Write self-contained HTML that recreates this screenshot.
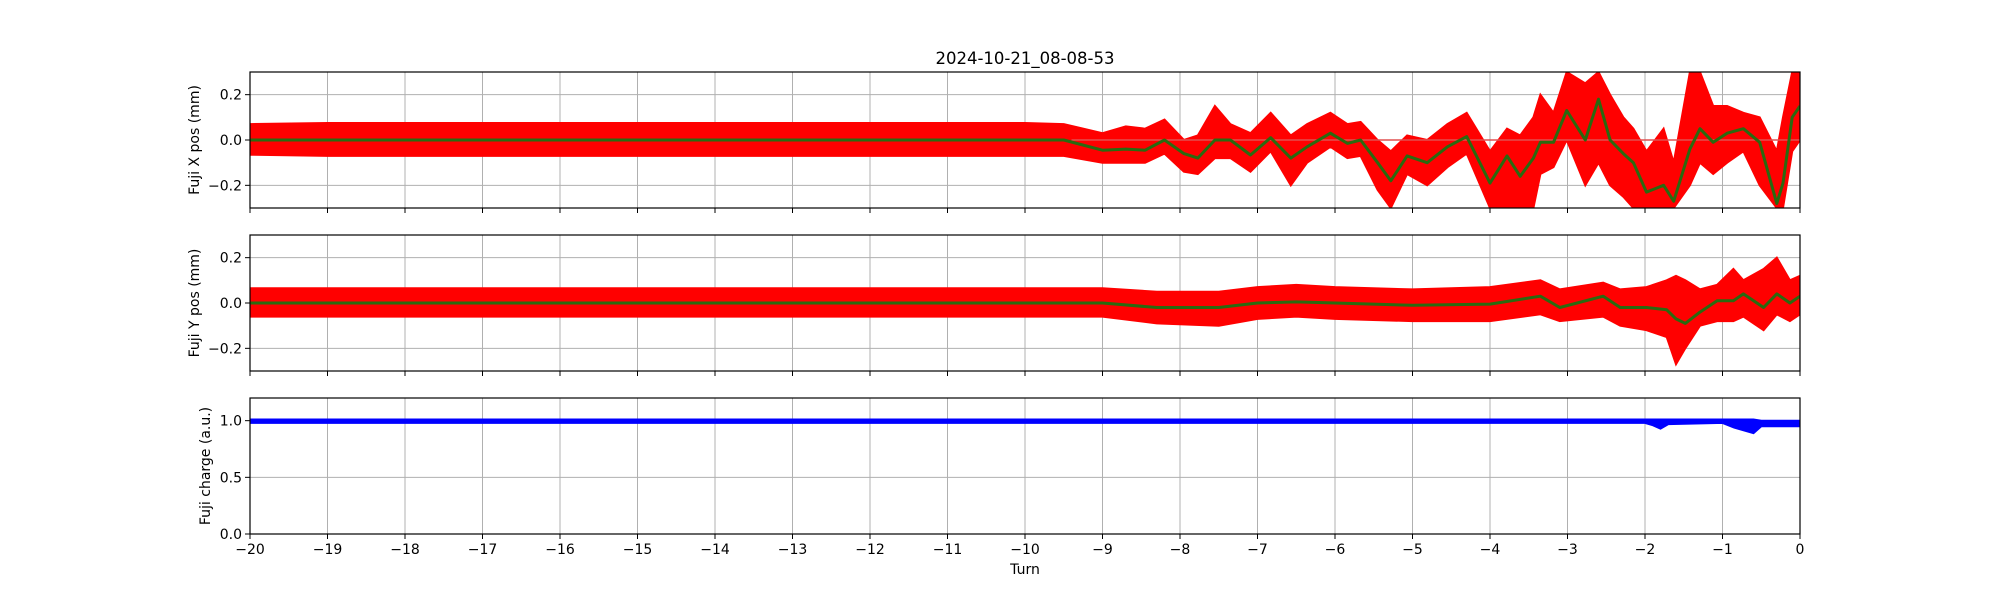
<!DOCTYPE html>
<html><head><meta charset="utf-8"><style>
body{margin:0;background:#fff;}
svg{display:block;font-family:"DejaVu Sans","Liberation Sans",sans-serif;}
</style></head><body>
<svg id="fig" width="2000" height="600" viewBox="0 0 2000 600" xmlns="http://www.w3.org/2000/svg">
<rect width="2000" height="600" fill="#fff"/>
<text x="1025" y="64" font-size="16.5" text-anchor="middle" fill="#000">2024-10-21_08-08-53</text>
<defs>
<clipPath id="c1"><rect x="250" y="72" width="1550" height="136"/></clipPath>
<clipPath id="c2"><rect x="250" y="235" width="1550" height="136"/></clipPath>
<clipPath id="c3"><rect x="250" y="398" width="1550" height="136"/></clipPath>
</defs>
<g id="root"></g>
</svg>
<script>
// ---- data ----
const turnsX=[-20,-19,-18,-17,-16,-15,-14,-13,-12,-11,-10,-9.5,-9,-8.7,-8.45,-8.2,-7.95,-7.77,-7.55,-7.35,-7.09,-6.83,-6.57,-6.36,-6.06,-5.84,-5.67,-5.45,-5.28,-5.07,-4.81,-4.55,-4.3,-4.0,-3.78,-3.61,-3.44,-3.35,-3.18,-3.01,-2.77,-2.6,-2.45,-2.28,-2.15,-1.98,-1.76,-1.63,-1.42,-1.29,-1.12,-0.94,-0.73,-0.52,-0.3,-0.22,-0.1,0];
const meanX=[0,0,0,0,0,0,0,0,0,0,0,0,-0.045,-0.04,-0.045,0,-0.06,-0.08,0,0,-0.066,0.01,-0.08,-0.03,0.03,-0.015,0,-0.1,-0.18,-0.07,-0.1,-0.03,0.015,-0.19,-0.07,-0.16,-0.08,-0.01,-0.01,0.13,0,0.18,0,-0.06,-0.1,-0.23,-0.2,-0.27,-0.04,0.05,-0.01,0.03,0.05,-0.01,-0.28,-0.19,0.1,0.15];
const loX=[-0.065,-0.07,-0.07,-0.07,-0.07,-0.07,-0.07,-0.07,-0.07,-0.07,-0.07,-0.07,-0.1,-0.1,-0.1,-0.06,-0.14,-0.15,-0.08,-0.08,-0.14,-0.05,-0.2,-0.1,-0.03,-0.08,-0.07,-0.22,-0.3,-0.15,-0.2,-0.12,-0.06,-0.3,-0.3,-0.3,-0.3,-0.15,-0.12,0,-0.2,-0.1,-0.2,-0.25,-0.3,-0.3,-0.3,-0.3,-0.2,-0.1,-0.15,-0.1,-0.05,-0.2,-0.3,-0.3,-0.05,0];
const hiX=[0.07,0.075,0.075,0.075,0.075,0.075,0.075,0.075,0.075,0.075,0.075,0.07,0.03,0.06,0.05,0.09,0,0.02,0.15,0.07,0.03,0.12,0.02,0.07,0.12,0.07,0.08,0,-0.05,0.02,0,0.07,0.12,-0.05,0.05,0.02,0.1,0.2,0.12,0.3,0.25,0.3,0.2,0.1,0.05,-0.05,0.05,-0.1,0.3,0.3,0.15,0.15,0.12,0.1,-0.05,0.1,0.3,0.3];

const turnsY=[-20,-19,-18,-17,-16,-15,-14,-13,-12,-11,-10,-9,-8.3,-7.5,-7,-6.5,-6,-5,-4,-3.35,-3.1,-2.54,-2.32,-1.98,-1.72,-1.6,-1.48,-1.29,-1.07,-0.86,-0.73,-0.47,-0.3,-0.13,0];
const meanY=[0,0,0,0,0,0,0,0,0,0,0,0,-0.02,-0.02,0,0.005,0,-0.01,-0.005,0.03,-0.02,0.03,-0.02,-0.02,-0.03,-0.07,-0.09,-0.04,0.01,0.01,0.04,-0.02,0.04,0,0.03];
const loY=[-0.06,-0.06,-0.06,-0.06,-0.06,-0.06,-0.06,-0.06,-0.06,-0.06,-0.06,-0.06,-0.09,-0.1,-0.07,-0.06,-0.07,-0.08,-0.08,-0.05,-0.08,-0.06,-0.1,-0.12,-0.15,-0.27,-0.2,-0.1,-0.08,-0.08,-0.06,-0.12,-0.05,-0.08,-0.05];
const hiY=[0.065,0.065,0.065,0.065,0.065,0.065,0.065,0.065,0.065,0.065,0.065,0.065,0.05,0.05,0.07,0.08,0.07,0.06,0.07,0.1,0.06,0.09,0.06,0.07,0.1,0.12,0.1,0.06,0.08,0.15,0.1,0.15,0.2,0.1,0.12];

const turnsQ=[-20,-2,-1.9,-1.8,-1.7,-1.0,-0.85,-0.6,-0.5,-0.2,0];
const loQ=[0.98,0.98,0.96,0.93,0.97,0.98,0.94,0.89,0.95,0.95,0.95];
const hiQ=[1.01,1.01,1.01,1.01,1.01,1.01,1.01,1.01,1.0,1.0,1.0];

const xTicks=[-20,-19,-18,-17,-16,-15,-14,-13,-12,-11,-10,-9,-8,-7,-6,-5,-4,-3,-2,-1,0];
const posTicks=[-0.2,0.0,0.2];
const posTickLabels=["\u22120.2","0.0","0.2"];
const qTicks=[0,0.5,1.0];
const qTickLabels=["0.0","0.5","1.0"];

// ---- scales ----
const L=250,R=1800;
const xs=t=>L+(t+20)/20*(R-L);
const axes=[
 {top:72,bot:208,min:-0.3,max:0.3,clip:'c1',name:'x-pos'},
 {top:235,bot:371,min:-0.3,max:0.3,clip:'c2',name:'y-pos'},
 {top:398,bot:534,min:0,max:1.2,clip:'c3',name:'charge'}
];
const ysOf=a=>v=>a.bot-(v-a.min)/(a.max-a.min)*(a.bot-a.top);
const NS='http://www.w3.org/2000/svg';
const root=document.getElementById('root');
function mk(tag,attrs,parent){const e=document.createElementNS(NS,tag);for(const k in attrs)e.setAttribute(k,attrs[k]);(parent||root).appendChild(e);return e;}

function band(turns,lo,hi,ys,color,g){
 let pts=[];
 for(let i=0;i<turns.length;i++)pts.push(xs(turns[i]).toFixed(1)+','+ys(hi[i]).toFixed(1));
 for(let i=turns.length-1;i>=0;i--)pts.push(xs(turns[i]).toFixed(1)+','+ys(lo[i]).toFixed(1));
 const p=mk('polygon',{points:pts.join(' '),fill:color,stroke:color,'stroke-width':2},g);
 return p;
}
function line(turns,vals,ys,color,w,g){
 const pts=turns.map((t,i)=>xs(t).toFixed(1)+','+ys(vals[i]).toFixed(1)).join(' ');
 return mk('polyline',{points:pts,fill:'none',stroke:color,'stroke-width':w,'stroke-linejoin':'round'},g);
}

axes.forEach((a,ai)=>{
 const ys=ysOf(a);
 const g=mk('g',{});
 
 
 // grid
 const yt= ai<2?posTicks:qTicks;
 const ytl= ai<2?posTickLabels:qTickLabels;
 xTicks.forEach(t=>{
  const gl=mk('line',{x1:xs(t),x2:xs(t),y1:a.top,y2:a.bot,stroke:'#b0b0b0','stroke-width':1},g);
  
  
 });
 yt.forEach(v=>{
  const gl=mk('line',{x1:L,x2:R,y1:ys(v),y2:ys(v),stroke:'#b0b0b0','stroke-width':1},g);
  
  
 });
 const dg=mk('g',{'clip-path':'url(#'+a.clip+')'},g);
 if(ai===0){
  const b=band(turnsX,loX,hiX,ys,'#ff0000',dg);
  
  
  const z=mk('line',{x1:xs(-9.4),x2:R,y1:ys(0),y2:ys(0),stroke:'#e05050','stroke-width':1.5},dg);
  
  
  const m=line(turnsX,meanX,ys,'#2a6a10',3,dg);
  
  
 } else if(ai===1){
  const b=band(turnsY,loY,hiY,ys,'#ff0000',dg);
  
  
  const m=line(turnsY,meanY,ys,'#2a6a10',3,dg);
  
  
 } else {
  const b=band(turnsQ,loQ,hiQ,ys,'#0000ff',dg);
  
  
 }
 // frame
 const fr=mk('rect',{x:L,y:a.top,width:R-L,height:a.bot-a.top,fill:'none',stroke:'#000','stroke-width':1.2},g);
 
 
 // x ticks
 xTicks.forEach(t=>{
  const tk=mk('line',{x1:xs(t),x2:xs(t),y1:a.bot,y2:a.bot+5,stroke:'#000','stroke-width':1},g);
  
  
  if(ai===2){
   const tx=mk('text',{x:xs(t),y:a.bot+20,'font-size':14,'text-anchor':'middle',fill:'#000'},g);
   tx.textContent=t<0?'\u2212'+(-t):String(t);
   
   
  }
 });
 // y ticks
 yt.forEach((v,i)=>{
  const tk=mk('line',{x1:L-5,x2:L,y1:ys(v),y2:ys(v),stroke:'#000','stroke-width':1},g);
  
  
  const tx=mk('text',{x:L-8,y:ys(v)+5,'font-size':14,'text-anchor':'end',fill:'#000'},g);
  tx.textContent=ytl[i];
  
  
 });
 const labels=['Fuji X pos (mm)','Fuji Y pos (mm)','Fuji charge (a.u.)'];
 const cy=(a.top+a.bot)/2;
 const yl=mk('text',{x:0,y:0,'font-size':14,'text-anchor':'middle',fill:'#000',transform:'translate('+(ai===2?210:199)+','+cy+') rotate(-90)'},g);
 yl.textContent=labels[ai];
 
 
});
const xl=mk('text',{x:1025,y:574,'font-size':14,'text-anchor':'middle',fill:'#000'});
xl.textContent='Turn';


</script>
</body></html>
